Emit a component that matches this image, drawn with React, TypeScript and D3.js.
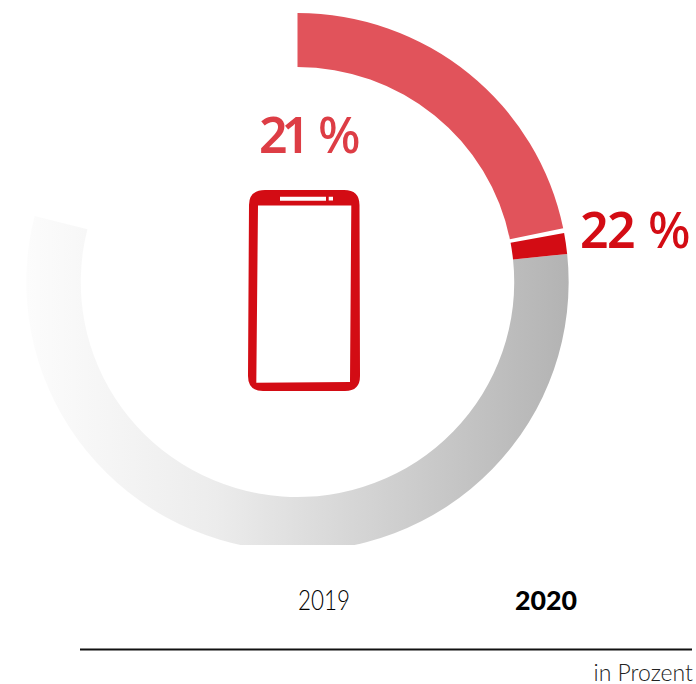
import React from "react";
import * as d3 from "d3";

// Smartphone usage share, previous year and current year
const years = ["2019", "2020"];
const shares = [21, 22];
const scaleStops = [0, 21, 22, 100];
const unitLabel = "in Prozent";

const width = 696;
const height = 684;
const cx = 297.5;
const cy = 282;
const innerRadius = 215;
const outerRadius = 269;
const widen = 1.008;
const deg = Math.PI / 180;

// Ring position for a percentage; the remainder sweeps only part of the way round
const angle = d3
  .scaleLinear()
  .domain(scaleStops)
  .range([0, 79 * deg, 84 * deg, 284.2 * deg]);

const ring = d3.arc().innerRadius(innerRadius).outerRadius(outerRadius);
const segment = (from: number, to: number, startGap = 0, endGap = 0) =>
  ring({
    startAngle: angle(from) + startGap * deg,
    endAngle: angle(to) - endGap * deg,
  } as any) as string;

const labelFont = "'Noto Sans', sans-serif";
const yearFont = "Lato, sans-serif";

export default function App() {
  const [prev, curr] = shares;
  return (
    <svg
      width={width}
      height={height}
      style={{ position: "absolute", left: 0, top: 0, display: "block", background: "#fff" }}
    >
      <defs>
        <linearGradient id="rest" gradientUnits="userSpaceOnUse" x1={-outerRadius} x2={outerRadius} y1={0} y2={0}>
          <stop offset="0" stopColor="#fcfcfc" />
          <stop offset="0.35" stopColor="#ececec" />
          <stop offset="1" stopColor="#b3b3b3" />
        </linearGradient>
        <clipPath id="cut">
          <rect x={0} y={0} width={width} height={545} />
        </clipPath>
      </defs>

      <g clipPath="url(#cut)">
        <g transform={`translate(${cx},${cy}) scale(${widen},1)`}>
          <path d={segment(curr, 100)} fill="url(#rest)" />
          <path d={segment(0, prev, 0, 0.5)} fill="#e1535b" />
          <path d={segment(prev, curr, 0.5, 0)} fill="#d30c14" />
        </g>
      </g>

      {/* Phone outline with screen, speaker slot and camera dot cut out */}
      <path
        fillRule="evenodd"
        fill="#d30c14"
        d="M265 190H344Q359.500 190 359.500 205L360 376Q360 391 345 391H263Q248 391 248 376L249 205Q249 190 265 190Z
           M258 205.500L256.300 382.700L350 382L351.300 205.500Z
           M280 196.700V200.700H326V196.700Z
           M328.700 196.700V200.500H333V196.700Z"
      />

      <text y={153} fontFamily={labelFont} fontSize={50} fill="#dd3d45">
        <tspan x={259} fontWeight={600} letterSpacing={-6}>{prev}</tspan>
        <tspan x={318} fontWeight={500}>%</tspan>
      </text>
      <text y={248} fontFamily={labelFont} fontSize={50} fill="#d30c14">
        <tspan x={580} fontWeight={600} letterSpacing={-1.5}>{curr}</tspan>
        <tspan x={648} fontWeight={500}>%</tspan>
      </text>

      <text x={324} y={610} textAnchor="middle" fontFamily={yearFont} fontWeight={300} fontSize={27} fill="#000" textLength={52} lengthAdjust="spacingAndGlyphs">
        {years[0]}
      </text>
      <text x={546} y={610} textAnchor="middle" fontFamily={yearFont} fontWeight={900} fontSize={27} fill="#000" textLength={62} lengthAdjust="spacingAndGlyphs">
        {years[1]}
      </text>

      <line x1={80} x2={692} y1={649.500} y2={649.500} stroke="#111" strokeWidth={2} />
      <text x={693} y={681} textAnchor="end" fontFamily={yearFont} fontWeight={300} fontSize={23} fill="#222">
        {unitLabel}
      </text>
    </svg>
  );
}
